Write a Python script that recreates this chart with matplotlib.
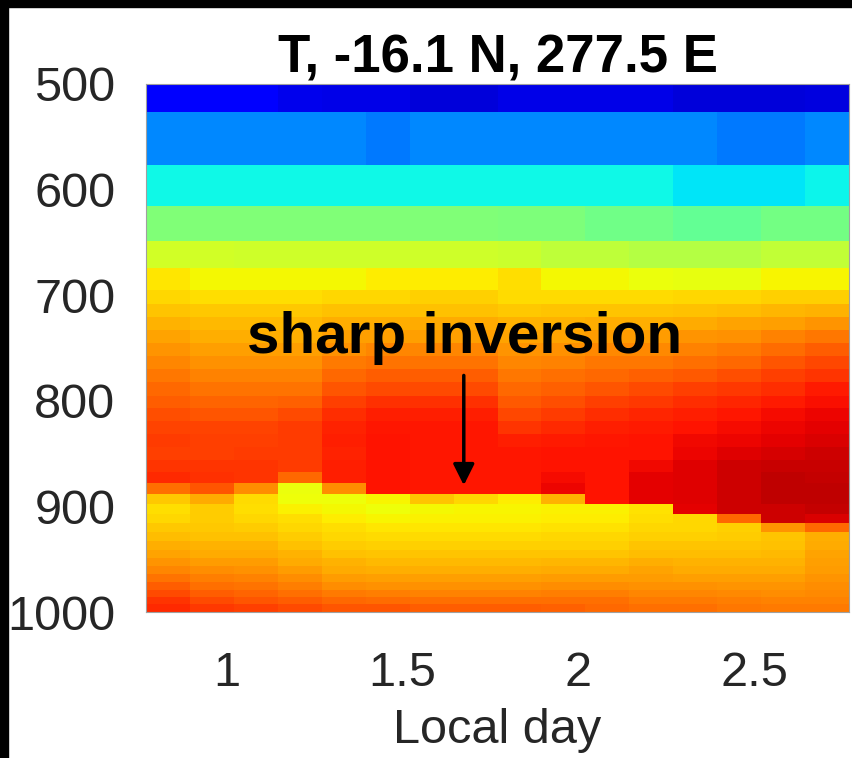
import numpy as np
import matplotlib
matplotlib.use("Agg")
import matplotlib.pyplot as plt
from matplotlib.patches import Rectangle

plt.rcParams["font.family"] = ["Liberation Sans", "DejaVu Sans"]

# ── data ─────────────────────────────────────────────────────────────────────
# time-cell edges (local day, 3-hourly) and pressure-cell edges (hPa)
day_edges = [0.77, 0.895, 1.02, 1.145, 1.27, 1.395, 1.52, 1.645, 1.77,
             1.895, 2.02, 2.145, 2.27, 2.395, 2.52, 2.645, 2.77]
p_edges = [500, 527, 577, 616, 649, 674, 695, 708, 721, 733, 745, 758, 770,
           782, 795, 807, 819, 831, 844, 856, 867, 878, 888, 898, 907, 916,
           924, 933, 941, 949, 956, 964, 972, 979, 986, 992, 1000]

# temperature profiles, top (500 hPa) to surface, in % of the colour range
t_step01 = [11.5, 26, 37, 50.5, 60.5, 66.7,
            68.3, 70.3, 71.9, 73.5, 75.1, 76.7, 78.3, 79.9, 81, 82.5, 83.6, 84.6,
            84.1, 85.2, 86.7, 79, 69.9, 67.2, 68.3, 69.9, 71, 72.5, 73.5, 75.1,
            76.7, 78.8, 81, 83, 85.2, 86.7]
t_step02 = [11.5, 26, 37, 50.5, 60.5, 64.8,
            67.2, 69.9, 71.4, 72.5, 74.1, 75.6, 77.2, 78.8, 80.4, 82, 83.6, 84.1,
            84.1, 85.2, 85.7, 82, 73, 69.5, 69.3, 69.9, 70.6, 71.9, 73, 74.5,
            76, 77.5, 79, 81, 83, 85]
t_step03 = [11.5, 26, 37, 50.5, 60, 64.8,
            67.2, 69.9, 71.4, 72.5, 74.1, 75.6, 77.2, 78.8, 80.4, 82, 83.6, 84.1,
            84.6, 85.2, 85.2, 76, 67.7, 67.2, 68.3, 69.4, 70.6, 71.9, 73, 74.5,
            75.6, 77.2, 78.8, 80.4, 82, 84]
t_step04 = [9.5, 26, 37, 50.5, 60, 64.8,
            67.2, 69.9, 71.4, 72.5, 74.1, 75.6, 77.2, 78.8, 80.8, 83, 84.6, 84.6,
            84.6, 84.6, 80, 63.5, 64, 65.6, 67.2, 68.3, 69.4, 70.6, 71.9, 73,
            74.5, 76, 77.5, 79, 81, 83]
t_step05 = [9, 26, 37, 50.5, 60, 64.8,
            68.3, 70.6, 72.5, 74.1, 75.6, 77.8, 79.9, 82, 84.1, 86.2, 87.3, 87.8,
            87.3, 87.8, 87.8, 76, 64, 64.5, 66, 67.2, 68.3, 69.4, 70.6, 71.9,
            73, 74.5, 76, 78, 80, 82]
t_step06 = [9, 24.5, 37, 50.5, 60, 66,
            68.3, 70.6, 72.5, 74.1, 76.7, 78.8, 81, 83, 85.7, 87.8, 88.4, 88.9,
            88.9, 88.9, 88.9, 88.9, 65, 64, 65, 66.5, 67.7, 68.8, 70, 71.4,
            72.5, 74.1, 75.6, 77.5, 79.5, 82]
t_step07 = [8, 26, 37, 50.5, 60, 66,
            68.9, 70.6, 73, 74.1, 76.7, 78.8, 81, 83, 85.7, 87.8, 88.4, 88.4,
            88.4, 88.4, 88.4, 88.4, 70, 64.8, 65.6, 66.7, 67.7, 68.8, 70, 71.4,
            72.5, 74.1, 75.6, 77.2, 79, 81]
t_step08 = [8, 26, 37, 50.5, 60, 66,
            68.9, 70.6, 73, 74.1, 76.7, 78.8, 81, 83, 85.7, 87.8, 88.4, 88.4,
            88.4, 88.4, 88.4, 88.4, 68, 65, 65.6, 66.7, 67.7, 68.8, 70, 71.4,
            72.5, 74.1, 75.6, 77.2, 79, 81]
t_step09 = [9, 26, 37, 50, 59.5, 67.5,
            67.7, 69.9, 71.9, 73.5, 75.1, 76.7, 78.3, 79.9, 81.5, 83.5, 85.5, 87.5,
            88.4, 88.4, 88.4, 88.4, 66, 65.2, 65.6, 66.7, 67.7, 68.8, 70, 71.4,
            72.5, 74.1, 75.6, 77.2, 79, 81]
t_step10 = [9, 26, 37, 50, 58, 64.8,
            67.7, 70, 72, 73.8, 75.5, 77.2, 79, 80.8, 82.5, 84.5, 86.5, 88,
            89, 89, 89.5, 90.3, 72, 65.5, 66, 67, 68, 69, 70.3, 71.5,
            73, 74.5, 76, 77.5, 79, 80.5]
t_step11 = [9, 26, 37, 48.5, 58, 64.5,
            67.7, 70, 72.5, 74.5, 76.5, 78.3, 80, 82, 84, 86, 87.5, 88.5,
            89, 89, 89, 89, 89, 65.5, 66, 67, 68, 69, 70.3, 71.5,
            73, 74.5, 76, 77.5, 79, 80]
t_step12 = [9, 26, 37, 48.5, 57, 63.5,
            67.7, 70, 72.5, 74.5, 76.5, 78.5, 80.5, 83, 85, 87, 88.2, 89,
            89, 90, 91.2, 91.2, 91.2, 67, 67.2, 68, 69, 70, 71, 72.5,
            73.5, 74.5, 75.5, 76.7, 78, 79]
t_step13 = [8, 26, 35, 47, 57, 63,
            68, 70.5, 73, 75, 77, 79, 81.5, 84, 86, 87.5, 89, 90,
            90.3, 91.6, 91.6, 91.6, 91.6, 91.2, 68, 68.3, 69, 70, 71, 72,
            73, 74, 75.5, 76.7, 78, 79]
t_step14 = [8, 24.5, 35, 47, 57, 63,
            68.3, 71, 73.5, 75.5, 78, 80, 82.5, 85, 87, 88.5, 89.6, 90.5,
            91.6, 93, 93, 93, 93, 93, 80, 69, 69.5, 70.3, 71, 72,
            73, 74, 75, 76.5, 77.5, 78.5]
t_step15 = [8, 24.5, 35, 49, 58.5, 65,
            68.8, 71.5, 74, 77, 79.5, 82, 84, 86, 88, 89.5, 90.5, 91.2,
            92.5, 93.5, 94.2, 94.2, 94.2, 93, 93, 75, 70, 70.6, 71.4, 72.2,
            73, 74, 75, 76, 77, 78]
t_step16 = [8.5, 26, 36.5, 49, 58.5, 65,
            68.8, 72, 75, 78.5, 81, 83.5, 85.5, 88, 89.3, 90.5, 91.2, 92,
            93, 93.5, 94, 94.5, 94.5, 94, 92, 80, 72.5, 73, 73.5, 74,
            74.6, 75.2, 75.8, 76.5, 77.2, 78]

x_ticks = [1, 1.5, 2, 2.5]
x_ticklabels = ["1", "1.5", "2", "2.5"]
y_ticks = [500, 600, 700, 800, 900, 1000]

temperature = np.array([t_step01, t_step02, t_step03, t_step04, t_step05,
                        t_step06, t_step07, t_step08, t_step09, t_step10,
                        t_step11, t_step12, t_step13, t_step14, t_step15,
                        t_step16]).T

# ── figure ───────────────────────────────────────────────────────────────────
fig = plt.figure(figsize=(8.52, 7.58), dpi=100)
ax = fig.add_axes([0.1714, 0.1926, 0.8251, 0.6966])

ax.pcolormesh(day_edges, p_edges, temperature, cmap="jet",
              vmin=0, vmax=100, shading="flat")
ax.set_xlim(day_edges[0], day_edges[-1])
ax.set_ylim(1000, 500)

ax.set_xticks(x_ticks)
ax.set_xticklabels(x_ticklabels)
ax.set_yticks(y_ticks)
ax.tick_params(axis="both", length=0, labelsize=35, colors="#262626")
ax.tick_params(axis="x", pad=28)
ax.tick_params(axis="y", pad=22)
ax.set_xlabel("Local day", fontsize=35, color="#262626", labelpad=9)
ax.set_title("T, -16.1 N, 277.5 E", fontsize=38, fontweight="bold", pad=7)

for s in ax.spines.values():
    s.set_color("#a0a0a0")
    s.set_linewidth(0.8)

ax.text(1.677, 755, "sharp inversion", fontsize=42, fontweight="bold",
        ha="center", va="baseline", color="black")
ax.annotate("", xy=(1.674, 880), xytext=(1.674, 776),
            arrowprops=dict(arrowstyle="-|>", lw=2.5, color="black",
                            mutation_scale=32, shrinkA=0, shrinkB=0))

# black frame strips at the top and left edge of the screenshot
fig.add_artist(Rectangle((0, 1 - 7 / 758), 1, 7 / 758, transform=fig.transFigure,
                         color="black", zorder=10))
fig.add_artist(Rectangle((0, 0), 8 / 852, 1, transform=fig.transFigure,
                         color="black", zorder=10))

fig.savefig("out.png", dpi=100)
